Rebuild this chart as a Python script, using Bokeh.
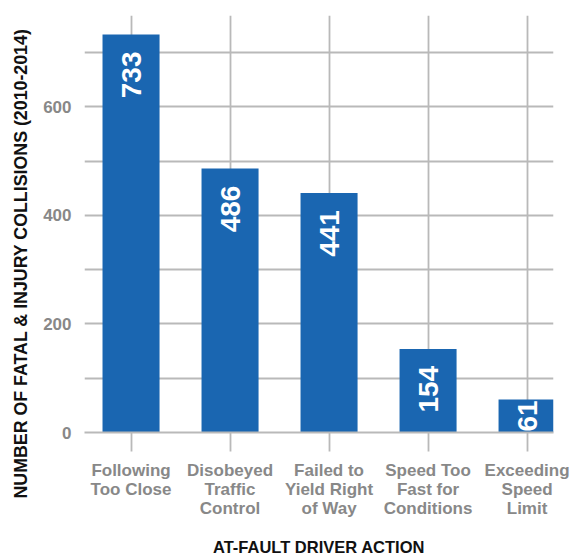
from math import pi

from bokeh.core.properties import value
from bokeh.embed import file_html
from bokeh.models import (ColumnDataSource, FixedTicker, LabelSet, Range1d,
                          SingleIntervalTicker, Title)
from bokeh.plotting import figure
from bokeh.resources import INLINE

# At-fault driver actions and their fatal & injury collision counts (2010-2014)
categories = [
    "Following\nToo Close",
    "Disobeyed\nTraffic\nControl",
    "Failed to\nYield Right\nof Way",
    "Speed Too\nFast for\nConditions",
    "Exceeding\nSpeed\nLimit",
]
collisions = [733, 486, 441, 154, 61]
y_tick_step = 200
y_max = 768

BLUE = "#1a66b1"
GRID = "#b9b9b9"
TICK_GREY = "#888888"
FONT = "Liberation Sans"

W, H = 586, 559
LEFT, RIGHT, TOP, BOTTOM = 84, 33, 15, 126
frame_h = H - TOP - BOTTOM
px_per_unit = frame_h / y_max

xs = list(range(len(categories)))

p = figure(
    width=W, height=H,
    x_range=Range1d(-0.47, 4.267),
    y_range=Range1d(0, y_max),
    output_backend="svg", toolbar_location=None,
    min_border_left=LEFT, min_border_right=RIGHT,
    min_border_top=TOP, min_border_bottom=BOTTOM,
)
p.outline_line_color = None
p.background_fill_color = "white"
p.border_fill_color = "white"

# bars
p.vbar(x=xs, top=collisions, width=0.576, bottom=0,
       fill_color=BLUE, line_color=None)

# grids: every 100 horizontally, one line per category vertically
p.ygrid.ticker = SingleIntervalTicker(interval=100)
p.ygrid.grid_line_color = GRID
p.ygrid.grid_line_width = 1.8
p.xgrid.ticker = FixedTicker(ticks=xs)
p.xgrid.grid_line_color = GRID
p.xgrid.grid_line_width = 1.8

# y axis: labels only
yax = p.yaxis[0]
yax.ticker = SingleIntervalTicker(interval=y_tick_step)
yax.axis_line_color = None
yax.major_tick_line_color = None
yax.minor_tick_line_color = None
yax.major_label_standoff = 7
yax.major_label_text_font = FONT
yax.major_label_text_font_style = "bold"
yax.major_label_text_font_size = "17px"
yax.major_label_text_color = TICK_GREY

# x axis: category names under outward ticks
xax = p.xaxis[0]
xax.ticker = FixedTicker(ticks=xs)
xax.major_label_overrides = {i: c for i, c in enumerate(categories)}
xax.axis_line_color = GRID
xax.axis_line_width = 1.8
xax.major_tick_line_color = GRID
xax.major_tick_line_width = 1.8
xax.major_tick_out = 19
xax.major_tick_in = 0
xax.minor_tick_line_color = None
xax.major_label_standoff = 9
xax.major_label_text_font = FONT
xax.major_label_text_font_style = "bold"
xax.major_label_text_font_size = "17px"
xax.major_label_text_color = TICK_GREY
xax.major_label_text_line_height = 1.02
xax.axis_label = "AT-FAULT DRIVER ACTION"
xax.axis_label_text_font = FONT
xax.axis_label_text_font_style = "bold"
xax.axis_label_text_font_size = "16.5px"
xax.axis_label_text_color = "#111111"
xax.axis_label_standoff = 17

# value labels, rotated, inside the top of each bar
label_px = 28
inset = []
for v in collisions:
    bar_px = v * px_per_unit
    text_px = len(str(v)) * 0.556 * label_px
    inset.append(min(17.0, max(0.0, (bar_px - text_px) / 2)))

src = ColumnDataSource(dict(x=xs, y=collisions,
                            text=[str(v) for v in collisions],
                            dy=[-d for d in inset]))
p.add_layout(LabelSet(
    x="x", y="y", text="text", source=src, y_offset="dy",
    angle=pi / 2, text_align="right", text_baseline="middle",
    text_color="white", text_font=value(FONT), text_font_style="bold",
    text_font_size=f"{label_px}px",
))

# vertical y-axis title, running a little below the plot frame
p.add_layout(Title(
    text="NUMBER OF FATAL & INJURY COLLISIONS (2010-2014)",
    align="left", offset=-66, vertical_align="middle", standoff=18,
    text_color="#111111", text_font=FONT, text_font_style="bold",
    text_font_size="17.8px",
), "left")

open("out.html", "w").write(file_html(p, INLINE))
